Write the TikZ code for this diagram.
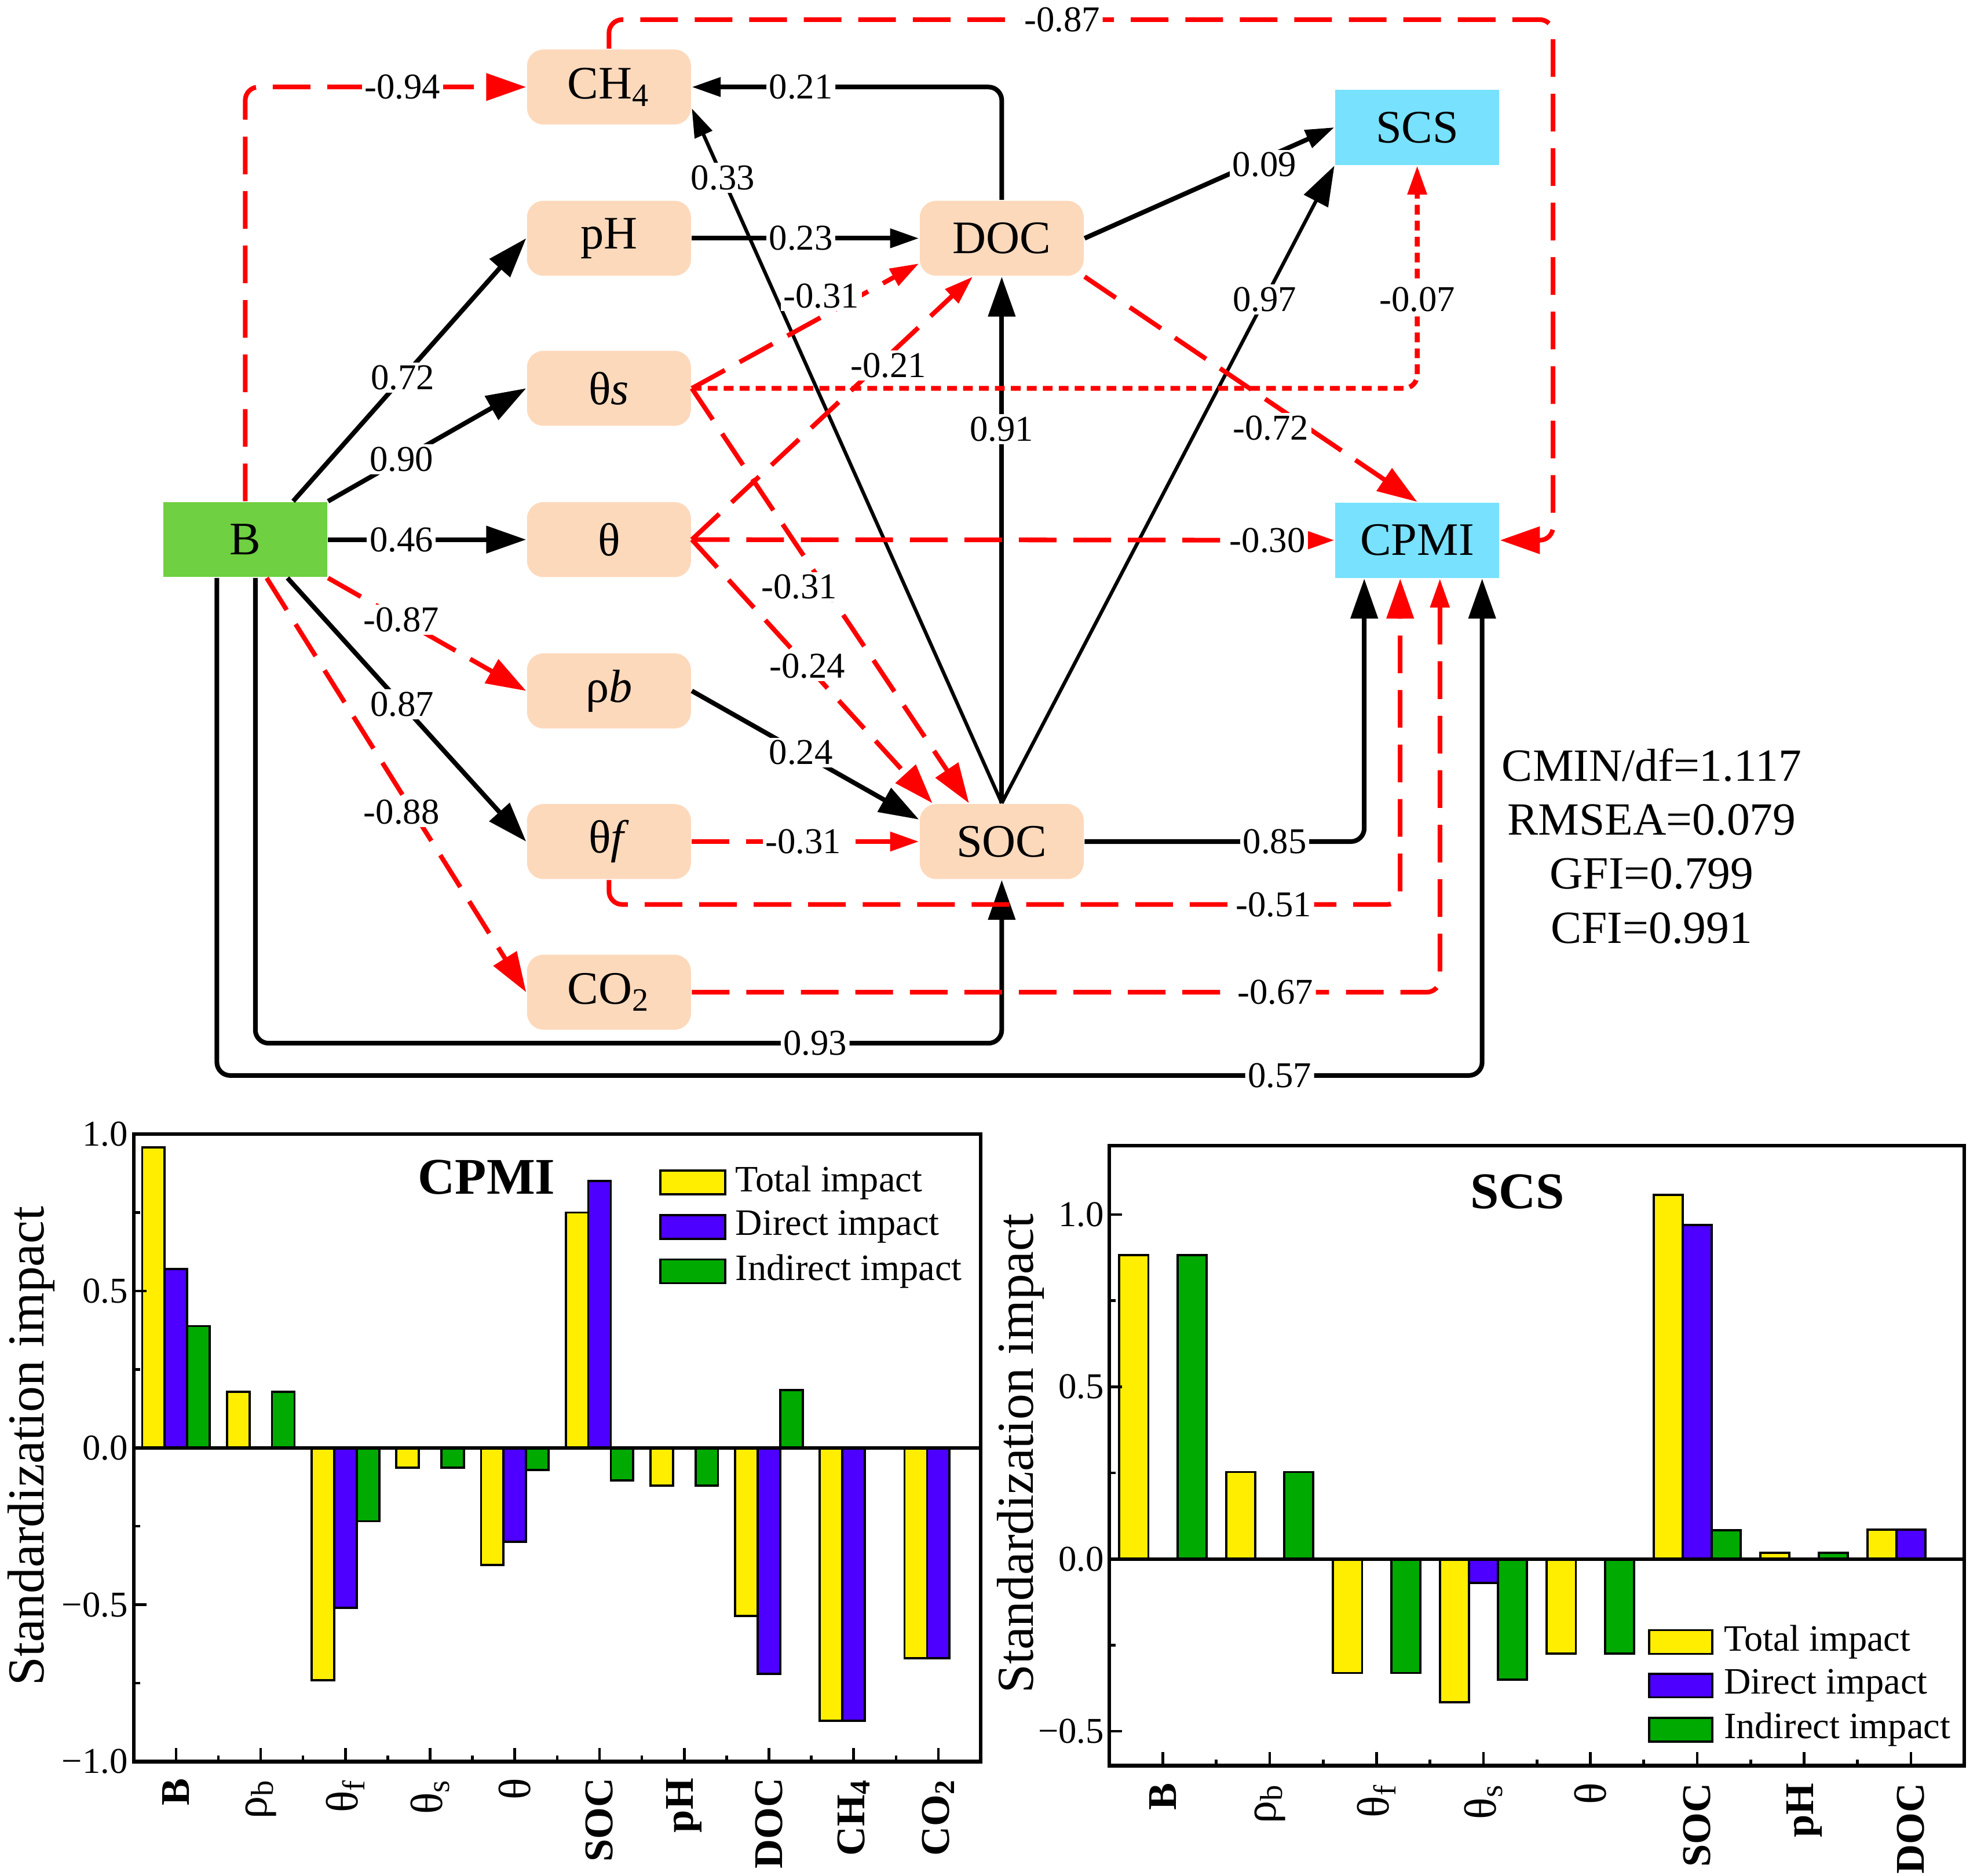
\documentclass[tikz,border=0pt]{standalone}
\usepackage{fontspec}
\setmainfont{Liberation Serif}
\usepackage{tikz}
\usetikzlibrary{arrows.meta}

\definecolor{peach}{RGB}{253,217,188}
\definecolor{skyc}{RGB}{120,225,253}
\definecolor{leafg}{RGB}{111,208,65}
\definecolor{ytot}{RGB}{255,238,0}
\definecolor{bdir}{RGB}{77,0,255}
\definecolor{gind}{RGB}{0,170,0}

\newcommand{\grk}[1]{{\fontsize{10.2}{11}\selectfont\mdseries #1}}

\begin{document}
\begin{tikzpicture}[
    box/.style={minimum width=1.30cm, minimum height=0.595cm, inner sep=0pt,
                font=\fontsize{10.5}{12}\selectfont},
    soil/.style={box, fill=peach, rounded corners=0.13cm},
    target/.style={box, fill=skyc},
    posl/.style={black, line width=1.05pt},
    thinl/.style={black, line width=0.8pt},
    negl/.style={red, line width=1.05pt, dash pattern=on 8.5pt off 3.8pt},
    dotl/.style={red, line width=1.1pt, dash pattern=on 2.2pt off 1.4pt},
    elbow/.style={rounded corners=3pt},
    bigtip/.style={-{Triangle[length=9pt,width=6pt]}},
    smalltip/.style={-{Triangle[length=6.5pt,width=4.2pt]}},
    lbl/.style={fill=white, text=black, inner sep=0.6pt, font=\fontsize{8.2}{9}\selectfont},
    ticklbl/.style={font=\fontsize{8.2}{9}\selectfont, inner sep=0pt},
    catlbl/.style={font=\fontsize{9.2}{10}\selectfont\bfseries, rotate=90, anchor=east, inner sep=0pt},
    legtxt/.style={font=\fontsize{8.4}{10}\selectfont, anchor=west, inner sep=0pt},
    axtitle/.style={font=\fontsize{11.7}{13}\selectfont, rotate=90},
    bar/.style={draw=black, line width=0.5pt}
  ]
  \useasboundingbox (0,0) rectangle (15.68,-14.88);

  % Path model nodes
  \node[box, fill=leafg] (B) at (1.945,-4.28) {B};
  \node[soil] (CH4)  at (4.83,-0.69)  {CH\textsubscript{4}};
  \node[soil] (pH)   at (4.83,-1.89)  {pH};
  \node[soil] (ths)  at (4.83,-3.08)  {θ\textit{s}};
  \node[soil] (th)   at (4.83,-4.28)  {θ};
  \node[soil] (rhob) at (4.83,-5.48)  {ρ\textit{b}};
  \node[soil] (thf)  at (4.83,-6.675) {θ\textit{f}};
  \node[soil] (CO2)  at (4.83,-7.87)  {CO\textsubscript{2}};
  \node[soil] (DOC)  at (7.945,-1.89)  {DOC};
  \node[soil] (SOC)  at (7.945,-6.675) {SOC};
  \node[target] (SCS)  at (11.24,-1.01)  {SCS};
  \node[target] (CPMI) at (11.24,-4.285) {CPMI};

  % Paths from B
  \draw[negl, elbow, bigtip] (B.north) |- (CH4.west) node[lbl, pos=0.78] {-0.94};
  \draw[posl, bigtip] ([xshift=0.38cm]B.north) -- (pH.west) node[lbl, pos=0.47] {0.72};
  \draw[posl, bigtip] (B.north east) -- (ths.west) node[lbl, pos=0.37] {0.90};
  \draw[posl, bigtip] (B.east) -- (th.west) node[lbl, pos=0.37] {0.46};
  \draw[negl, bigtip] (B.south east) -- (rhob.west) node[lbl, pos=0.37] {-0.87};
  \draw[posl, bigtip] ([xshift=0.335cm]B.south) -- (thf.west) node[lbl, pos=0.48] {0.87};
  \draw[negl, bigtip] ([xshift=0.17cm]B.south) -- (CO2.west) node[lbl, pos=0.52, yshift=-0.15cm] {-0.88};
  \draw[posl, elbow, bigtip] ([xshift=0.08cm]B.south) -- ++(0,-3.69) -| (SOC.south)
    node[lbl, pos=0.375] {0.93};
  \draw[posl, elbow, bigtip] ([xshift=-0.225cm]B.south) -- ++(0,-3.946) -| ([xshift=0.515cm]CPMI.south)
    node[lbl, pos=0.42] {0.57};

  % Paths into CH4 and out of it
  \draw[negl, elbow, bigtip] (CH4.north) -- ++(0,0.23) -| ([xshift=0.42cm]CPMI.east)
    node[lbl, pos=0.24] {-0.87} -- (CPMI.east);
  \draw[posl, elbow, smalltip] (DOC.north) |- (CH4.east) node[lbl, pos=0.824] {0.21};
  \draw[thinl, smalltip] (SOC.north) -- ([yshift=-0.17cm]CH4.east) node[lbl, pos=0.9] {0.33};

  % Paths into DOC
  \draw[posl, smalltip] (pH.east) -- (DOC.west) node[lbl, pos=0.48] {0.23};
  \draw[negl, smalltip] (ths.east) -- ([yshift=-0.2cm]DOC.west) node[lbl, pos=0.57, yshift=0.17cm] {-0.31};
  \draw[negl, smalltip] (th.east) -- ([xshift=-0.23cm]DOC.south) node[lbl, pos=0.70, yshift=-0.08cm] {-0.21};
  \draw[posl, bigtip] (SOC.north) -- (DOC.south) node[lbl, pos=0.71] {0.91};

  % Paths into SOC
  \draw[negl, bigtip] (ths.east) -- ([xshift=-0.26cm]SOC.north) node[lbl, pos=0.479, xshift=-0.2cm] {-0.31};
  \draw[negl, bigtip] (th.east) -- ([xshift=-0.55cm]SOC.north) node[lbl, pos=0.48] {-0.24};
  \draw[posl, bigtip] (rhob.east) -- ([yshift=0.175cm]SOC.west) node[lbl, pos=0.48] {0.24};
  \draw[negl, smalltip] (thf.east) -- (SOC.west) node[lbl, pos=0.49] {-0.31};

  % Paths into SCS
  \draw[posl, smalltip] (DOC.east) -- (SCS.west) node[lbl, pos=0.72, yshift=-0.05cm] {0.09};
  \draw[thinl, bigtip] (SOC.north) -- (SCS.south west) node[lbl, pos=0.79] {0.97};
  \draw[dotl, elbow, smalltip] (ths.east) -| (SCS.south) node[lbl, pos=0.70] {-0.07};

  % Paths into CPMI
  \draw[negl, bigtip] (DOC.south east) -- (CPMI.north) node[lbl, pos=0.56, yshift=-0.2cm] {-0.72};
  \draw[negl, smalltip] (th.east) -- (CPMI.west) node[lbl, pos=0.896] {-0.30};
  \draw[posl, elbow, bigtip] (SOC.east) -| ([xshift=-0.42cm]CPMI.south) node[lbl, pos=0.34] {0.85};
  \draw[negl, elbow, bigtip] (thf.south) -- ++(0,-0.195) -| ([xshift=-0.135cm]CPMI.south)
    node[lbl, pos=0.42] {-0.51};
  \draw[negl, elbow, smalltip] (CO2.east) -| ([xshift=0.18cm]CPMI.south) node[lbl, pos=0.39] {-0.67};

  % Fit indices
  \node[font=\fontsize{10.4}{12.2}\selectfont, align=center] (fitidx) at (13.1,-6.71)
    {CMIN/df=1.117\\RMSEA=0.079\\GFI=0.799\\CFI=0.991};

  % Effects on CPMI
  \begin{scope}[shift={(1.06,-11.484)}, x=0.6718cm, y=2.489cm]
    \foreach \t/\d/\n [count=\i from 0] in {0.958/0.57/0.388, 0.179/0/0.179, -0.741/-0.51/-0.234,
        -0.063/0/-0.063, -0.374/-0.30/-0.071, 0.75/0.85/-0.104, -0.121/0/-0.121,
        -0.536/-0.72/0.184, -0.87/-0.87/0, -0.671/-0.67/0} {
      \draw[bar, fill=ytot] (\i+0.101,0) rectangle (\i+0.367,\t);
      \draw[bar, fill=bdir] (\i+0.367,0) rectangle (\i+0.633,\d);
      \draw[bar, fill=gind] (\i+0.633,0) rectangle (\i+0.899,\n);
    }
    \draw[line width=0.8pt] (0,0) -- (10,0);
    \draw[line width=0.8pt] (0,-1) rectangle (10,1);
    \foreach \v/\t in {-1/−1.0, -0.5/−0.5, 0/0.0, 0.5/0.5, 1/1.0} {
      \draw[line width=0.6pt] (0,\v) -- ++(0.15,0);
      \node[ticklbl, anchor=east] at (-0.06,\v) {\t};
    }
    \foreach \v in {-0.75,-0.25,0.25,0.75}
      \draw[line width=0.6pt] (0,\v) -- ++(0.075,0);
    \foreach \i in {0,...,9}
      \draw[line width=0.6pt] (\i+0.5,-1) -- ++(0,0.044);
    \foreach \i in {1,...,9}
      \draw[line width=0.6pt] (\i,-1) -- ++(0,0.02);
    \foreach \c [count=\i from 0] in {B, \grk{ρ\textsubscript{b}}, \grk{θ\textsubscript{f}},
        \grk{θ\textsubscript{s}}, \grk{θ}, SOC, pH, DOC, CH\textsubscript{4}, CO\textsubscript{2}}
      \node[catlbl] at (\i+0.5,-1.05) {\c};
  \end{scope}
  \node[axtitle] (ytitleL) at (0.249,-11.47) {Standardization impact};
  \node[font=\fontsize{11.6}{13}\selectfont\bfseries] (titleL) at (3.86,-9.336) {CPMI};
  \draw[bar, fill=ytot] (5.239,-9.285) rectangle (5.752,-9.473);
  \draw[bar, fill=bdir] (5.239,-9.638) rectangle (5.752,-9.826);
  \draw[bar, fill=gind] (5.239,-9.990) rectangle (5.752,-10.178);
  \node[legtxt] (totL) at (5.827,-9.38)  {Total impact};
  \node[legtxt] (dirL) at (5.827,-9.73)  {Direct impact};
  \node[legtxt] (indL) at (5.827,-10.085) {Indirect impact};

  % Effects on SCS
  \begin{scope}[shift={(8.799,-12.366)}, x=0.8476cm, y=2.732cm]
    \foreach \t/\d/\n [count=\i from 0] in {0.882/0/0.882, 0.2525/0/0.2525, -0.331/0/-0.331,
        -0.416/-0.07/-0.35, -0.275/0/-0.275, 1.057/0.97/0.083, 0.0187/0/0.0187, 0.085/0.085/0} {
      \draw[bar, fill=ytot] (\i+0.092,0) rectangle (\i+0.364,\t);
      \draw[bar, fill=bdir] (\i+0.364,0) rectangle (\i+0.636,\d);
      \draw[bar, fill=gind] (\i+0.636,0) rectangle (\i+0.908,\n);
    }
    \draw[line width=0.8pt] (0,0) -- (8,0);
    \draw[line width=0.8pt] (0,-0.6) rectangle (8,1.2);
    \foreach \v/\t in {-0.5/−0.5, 0/0.0, 0.5/0.5, 1/1.0} {
      \draw[line width=0.6pt] (0,\v) -- ++(0.118,0);
      \node[ticklbl, anchor=east] at (-0.0425,\v) {\t};
    }
    \foreach \v in {-0.25,0.25,0.75}
      \draw[line width=0.6pt] (0,\v) -- ++(0.059,0);
    \foreach \i in {0,...,7}
      \draw[line width=0.6pt] (\i+0.5,-0.6) -- ++(0,0.04);
    \foreach \i in {1,...,7}
      \draw[line width=0.6pt] (\i,-0.6) -- ++(0,0.018);
    \foreach \c [count=\i from 0] in {B, \grk{ρ\textsubscript{b}}, \grk{θ\textsubscript{f}},
        \grk{θ\textsubscript{s}}, \grk{θ}, SOC, pH, DOC}
      \node[catlbl] at (\i+0.5,-0.648) {\c};
  \end{scope}
  \node[axtitle] (ytitleR) at (8.096,-11.53) {Standardization impact};
  \node[font=\fontsize{11.6}{13}\selectfont\bfseries] (titleR) at (12.036,-9.453) {SCS};
  \draw[bar, fill=ytot] (13.079,-12.930) rectangle (13.582,-13.118);
  \draw[bar, fill=bdir] (13.079,-13.275) rectangle (13.582,-13.463);
  \draw[bar, fill=gind] (13.079,-13.627) rectangle (13.582,-13.816);
  \node[legtxt] (totR) at (13.666,-13.025) {Total impact};
  \node[legtxt] (dirR) at (13.666,-13.37)  {Direct impact};
  \node[legtxt] (indR) at (13.666,-13.72)  {Indirect impact};
\end{tikzpicture}
\end{document}
